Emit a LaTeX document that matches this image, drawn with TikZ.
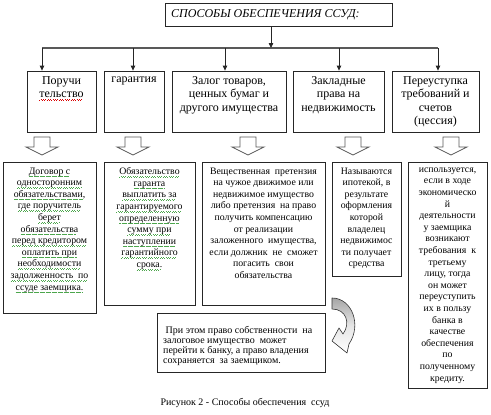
\documentclass[tikz,border=0pt]{standalone}
\usepackage{fontspec}
\setmainfont{Liberation Serif}
\usetikzlibrary{arrows.meta}
\newsavebox\wvbox
\newcommand\wvline[2]{\sbox\wvbox{#2}\leavevmode\rlap{\raisebox{-2.4pt}{\color{#1}\hbox to \wd\wvbox{\leaders\hbox to 2.4pt{\rule{0.8pt}{0.35pt}\hskip0.4pt\rule[0.6pt]{0.8pt}{0.35pt}\hskip0.4pt}\hfill}}}\usebox\wvbox}
\newcommand\gw{\wvline{green!50!black!70}}
\newcommand\rw{\wvline{red!85!black}}
\begin{document}
\begin{tikzpicture}[x=1pt,y=-1pt,
  box/.style={draw=black!85, line width=0.8pt, inner sep=0pt, fill=white},
  hd/.style={font=\fontsize{12}{13.3}\selectfont, align=center, inner sep=0pt, anchor=north},
  tx/.style={font=\fontsize{9.8}{11.6}\selectfont, align=center, inner sep=0pt, anchor=north},
  arr/.style={-{Triangle[length=5pt,width=4.5pt]}, line width=0.8pt, draw=black!85},
  bus/.style={line width=1.3pt, draw=black!65},
  harrow/.pic={\draw[line width=0.8pt, draw=black!65, fill=white]
     (-8,0) -- (8,0) -- (8,10) -- (16,10) -- (0,18) -- (-16,10) -- (-8,10) -- cycle;}
]
\useasboundingbox (0,0) rectangle (491,415);

% title
\node[box, minimum width=227pt, minimum height=23pt] (title) at (278.5,14.5) {};
\node[font=\fontsize{12}{13}\selectfont\itshape, anchor=west, inner sep=0pt] (titletxt) at (171,14.5) {СПОСОБЫ ОБЕСПЕЧЕНИЯ ССУД:};

% row 1 boxes
\node[box, minimum width=69pt, minimum height=61pt] (b1) at (61.5,101.5) {};
\node[box, minimum width=60pt, minimum height=61pt] (b2) at (134,101.5) {};
\node[box, minimum width=114pt, minimum height=61pt] (b3) at (229,101.5) {};
\node[box, minimum width=91pt, minimum height=61pt] (b4) at (338.5,101.5) {};
\node[box, minimum width=87pt, minimum height=61pt] (b5) at (435.5,101.5) {};

\node[hd] (h1) at (61.5,76.5) {Поручи\\\rw{тельство}};
\node[hd] (h2) at (134,76.5) {гарантия};
\node[hd] (h3) at (229,76.5) {Залог товаров,\\ценных бумаг и\\другого имущества};
\node[hd] (h4) at (338.5,76.5) {Закладные\\права на\\недвижимость};
\node[hd] (h5) at (435.5,76.5) {Переуступка\\требований и\\счетов\\(цессия)};

% connectors
\coordinate (t) at (271,48);
\coordinate (d1) at (42,48);
\coordinate (d2) at (133,48);
\coordinate (d3) at (225,48);
\coordinate (d4) at (339,48);
\coordinate (d5) at (438,48);
\draw[bus] (d1) -- (d5);
\draw[arr] (t |- title.south) -- (t);
\draw[arr] (d1) -- (d1 |- b1.north);
\draw[arr] (d2) -- (d2 |- b2.north);
\draw[arr] (d3) -- (d3 |- b3.north);
\draw[arr] (d4) -- (d4 |- b4.north);
\draw[arr] (d5) -- (d5 |- b5.north);

% hollow arrows
\pic at (42,137) {harrow};
\pic at (133,137) {harrow};
\pic at (248,137) {harrow};
\pic at (353,137) {harrow};
\pic at (451,137) {harrow};

% row 2 boxes
\node[box, minimum width=93pt, minimum height=151pt] (c1) at (49.5,237.5) {};
\node[box, minimum width=91pt, minimum height=143pt] (c2) at (149.5,233.5) {};
\node[box, minimum width=123pt, minimum height=143pt] (c3) at (263.5,233.5) {};
\node[box, minimum width=69pt, minimum height=114pt] (c4) at (366.5,219) {};
\node[box, minimum width=79pt, minimum height=226pt] (c5) at (447.5,275) {};

\node[tx] (x1) at (49.5,167.5) {\gw{Договор с}\\\gw{односторонним}\\\gw{обязательствами,}\\\gw{где поручитель}\\\gw{берет}\\\gw{обязательства}\\\gw{перед кредитором}\\\gw{оплатить при}\\\gw{необходимости}\\\gw{задолженность\ \ по}\\\gw{ссуде заемщика.}};
\node[tx] (x2) at (149.5,167.5) {\gw{Обязательство}\\\gw{гаранта}\\\gw{выплатить за}\\\gw{гарантируемого}\\\gw{определенную}\\\gw{сумму при}\\\gw{наступлении}\\\gw{гарантийного}\\\gw{срока.}};
\node[tx] (x3) at (263.5,167.5) {Вещественная\ \ претензия\\на чужое движимое или\\недвижимое имущество\\либо претензия\ \ на право\\получить компенсацию\\от реализации\\заложенного\ \ имущества,\\если должник\ \ не\ \ сможет\\погасить\ \ свои\\обязательства};
\node[tx] (x4) at (366.5,167.5) {Называются\\ипотекой, в\\результате\\оформления\\которой\\владелец\\недвижимос\\ти получает\\средства};
\node[tx] (x5) at (447.5,167.5) {используется,\\если в ходе\\экономическо\\й\\деятельности\\у заемщика\\возникают\\требования\ \ к\\третьему\\лицу, тогда\\он может\\переуступить\\их в пользу\\банка в\\качестве\\обеспечения\\по\\полученному\\кредиту.};

% bottom box
\node[box, minimum width=168pt, minimum height=59pt] (d) at (241,342.5) {};
\node[font=\fontsize{10}{10}\selectfont, align=left, inner sep=0pt, anchor=north west] (dtxt) at (163,326) {\ При этом право собственности\ \ на\\залоговое имущество\ \ может\\перейти к банку, а право владения\\сохраняется\ \ за заемщиком.};

% curved arrow
\shade[top color=black!35, bottom color=white, middle color=black!10]
  (332,298) .. controls (352,298) and (362,325) .. (349,344)
  -- (347,353) -- (332,341) -- (339,328) -- (343,334)
  .. controls (351,323) and (346,309) .. (332,309) -- cycle;
\draw[draw=black!80, line width=0.6pt, line join=round]
  (332,298) .. controls (352,298) and (362,325) .. (349,344)
  -- (347,353) -- (332,341) -- (339,328) -- (343,334)
  .. controls (351,323) and (346,309) .. (332,309) -- cycle;

% caption
\node[font=\fontsize{10}{12}\selectfont, inner sep=0pt] (cap) at (245,403) {Рисунок 2 - Способы обеспечения\ \ ссуд};
\end{tikzpicture}
\end{document}
